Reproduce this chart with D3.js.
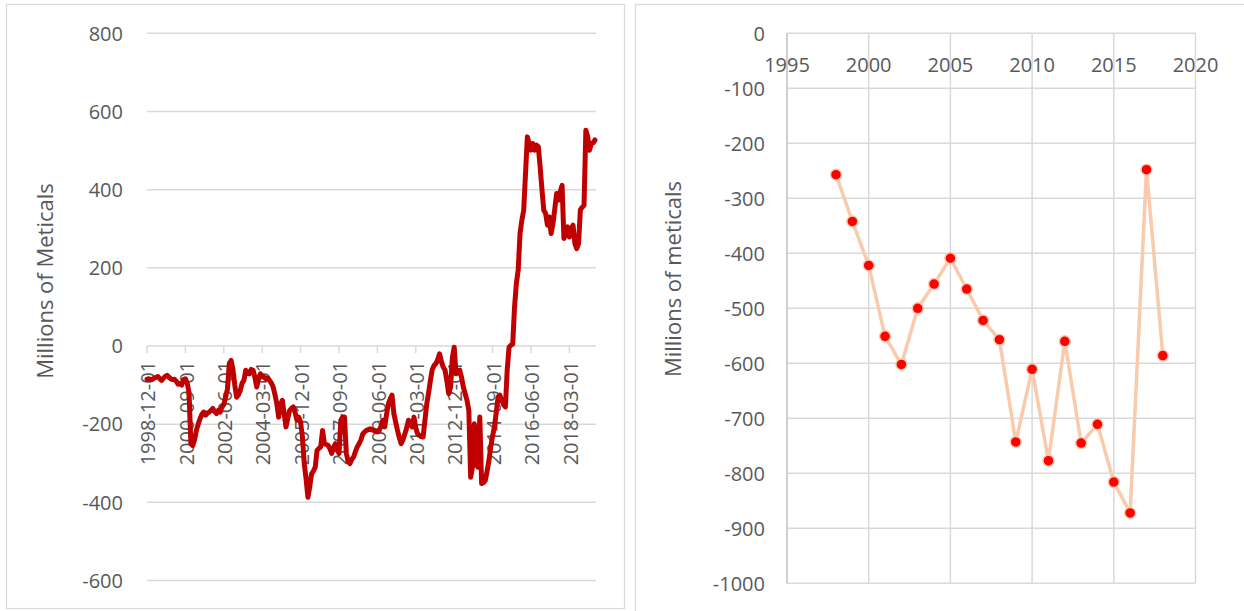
<!DOCTYPE html>
<html>
<head>
<meta charset="utf-8">
<script src="https://cdn.jsdelivr.net/npm/d3@7"></script>
<style>
  html, body { margin: 0; padding: 0; background: #fff; }
  svg { display: block; }
  text { font-family: "Open Sans", "Liberation Sans", sans-serif; fill: #595959; }
</style>
</head>
<body>
<svg id="chart" width="1244" height="611"></svg>
<script>
// ---------- Left chart: monthly series, 1998-12 .. 2019-05 ----------
const monthlyStart = "1998-12-01";
const monthlyValues = [
  -85, -84, -86, -85, -82, -80, -78, -84, -88, -82, -78, -75, -80, -84, -86, -85, -90, -98, -96,
  -100, -86, -84, -95, -120, -250, -255, -240, -216, -200, -186, -175, -169, -177, -172, -169,
  -165, -160, -168, -173, -165, -169, -156, -150, -130, -110, -45, -37, -60, -100, -131, -125,
  -114, -95, -88, -62, -70, -71, -60, -62, -80, -105, -85, -71, -79, -80, -84, -82, -88, -95,
  -105, -125, -148, -182, -150, -139, -173, -207, -185, -165, -160, -156, -170, -190, -182, -195,
  -233, -301, -340, -387, -360, -327, -320, -310, -267, -262, -258, -216, -250, -252, -254, -262,
  -275, -260, -250, -265, -275, -190, -182, -182, -275, -295, -301, -290, -284, -270, -258, -250,
  -240, -225, -220, -216, -214, -212, -214, -216, -218, -220, -216, -205, -190, -207, -175, -148,
  -135, -126, -173, -195, -216, -235, -250, -240, -225, -210, -190, -200, -207, -182, -210, -225,
  -229, -232, -233, -190, -148, -120, -88, -60, -50, -45, -35, -20, -40, -54, -62, -90, -122,
  -105, -30, -3, -71, -65, -62, -80, -105, -122, -139, -165, -336, -310, -199, -300, -310, -182,
  -352, -350, -344, -320, -293, -258, -230, -207, -170, -130, -126, -139, -150, -156, -60, -3,
  2, 5, 100, 160, 194, 288, 322, 347, 441, 535, 518, 501, 518, 501, 514, 510, 458, 400, 347, 339,
  309, 330, 288, 313, 350, 390, 373, 395, 411, 275, 290, 305, 279, 300, 309, 262, 249, 262, 348,
  355, 360, 552, 535, 501, 518, 520, 527
];
const leftTickLabels = ["1998-12-01","2000-09-01","2002-06-01","2004-03-01","2005-12-01","2007-09-01",
  "2009-06-01","2011-03-01","2012-12-01","2014-09-01","2016-06-01","2018-03-01"];
const leftYTicks = [800, 600, 400, 200, 0, -200, -400, -600];
const leftTitle = "Millions of Meticals";

// ---------- Right chart: annual series ----------
const years = [1998,1999,2000,2001,2002,2003,2004,2005,2006,2007,2008,2009,2010,2011,2012,2013,2014,2015,2016,2017,2018];
const annualValues = [-257,-342,-422,-551,-602,-500,-456,-409,-465,-522,-557,-743,-611,-777,-560,-745,-711,-816,-872,-248,-586];
const rightXTicks = [1995, 2000, 2005, 2010, 2015, 2020];
const rightYTicks = [0,-100,-200,-300,-400,-500,-600,-700,-800,-900,-1000];
const rightTitle = "Millions of meticals";

const svg = d3.select("#chart");
const grid = "#D9D9D9";

// panel frames
svg.append("rect").attr("x", 6.5).attr("y", 4.5).attr("width", 618).attr("height", 604)
  .attr("fill", "none").attr("stroke", grid).attr("stroke-width", 1.2);
svg.append("rect").attr("x", 635.5).attr("y", 4.5).attr("width", 700).attr("height", 700)
  .attr("fill", "none").attr("stroke", grid).attr("stroke-width", 1.2);

// ===== Left chart =====
const parse = d3.timeParse("%Y-%m-%d");
const startDate = parse(monthlyStart);
const xL = d3.scaleLinear().domain([0, monthlyValues.length - 1]).range([147, 595]);
const yL = d3.scaleLinear().domain([-600, 800]).range([580.5, 33.3]);
const L = svg.append("g");

L.append("g").selectAll("line").data(leftYTicks).join("line")
  .attr("x1", 147).attr("x2", 596)
  .attr("y1", d => yL(d)).attr("y2", d => yL(d))
  .attr("stroke", grid).attr("stroke-width", 1.5);

L.append("g").selectAll("text").data(leftYTicks).join("text")
  .attr("x", 123).attr("y", d => yL(d)).attr("dy", "0.36em")
  .attr("text-anchor", "end").attr("font-size", 20).text(d => d);

const tickIdx = leftTickLabels.map(s => d3.timeMonth.count(startDate, parse(s)));
L.append("g").selectAll("line").data(tickIdx).join("line")
  .attr("x1", d => xL(d)).attr("x2", d => xL(d))
  .attr("y1", yL(0)).attr("y2", yL(0) + 7)
  .attr("stroke", grid).attr("stroke-width", 1.5);

L.append("g").selectAll("text").data(leftTickLabels).join("text")
  .attr("transform", (d, i) => `translate(${xL(tickIdx[i]) + 1},${yL(0) + 15}) rotate(-90)`)
  .attr("dy", "0.36em").attr("text-anchor", "end").attr("font-size", 20)
  .text(d => d);

L.append("text")
  .attr("transform", `translate(45,281) rotate(-90)`)
  .attr("dy", "0.36em").attr("text-anchor", "middle").attr("font-size", 22)
  .text(leftTitle);

L.append("path").datum(monthlyValues)
  .attr("fill", "none").attr("stroke", "#C00000").attr("stroke-width", 5)
  .attr("stroke-linejoin", "round").attr("stroke-linecap", "round")
  .attr("d", d3.line().x((d, i) => xL(i)).y(d => yL(d)));

// ===== Right chart =====
const xR = d3.scaleLinear().domain([1995, 2020]).range([787, 1195.5]);
const yR = d3.scaleLinear().domain([-1000, 0]).range([583.3, 33.3]);
const R = svg.append("g");

R.append("g").selectAll("line").data(rightYTicks).join("line")
  .attr("x1", xR(1995)).attr("x2", xR(2020))
  .attr("y1", d => yR(d)).attr("y2", d => yR(d))
  .attr("stroke", grid).attr("stroke-width", 1.5);
R.append("g").selectAll("line").data(rightXTicks).join("line")
  .attr("x1", d => xR(d)).attr("x2", d => xR(d))
  .attr("y1", yR(0)).attr("y2", yR(-1000))
  .attr("stroke", (d, i) => i === 0 ? "#BFBFBF" : grid).attr("stroke-width", 1.5);

R.append("g").selectAll("text").data(rightYTicks).join("text")
  .attr("x", 765).attr("y", d => yR(d)).attr("dy", "0.36em")
  .attr("text-anchor", "end").attr("font-size", 20).text(d => d);

R.append("g").selectAll("text").data(rightXTicks).join("text")
  .attr("x", d => xR(d)).attr("y", 65).attr("dy", "0.36em")
  .attr("text-anchor", "middle").attr("font-size", 20).text(d => d);

R.append("text")
  .attr("transform", `translate(673,279) rotate(-90)`)
  .attr("dy", "0.36em").attr("text-anchor", "middle").attr("font-size", 22)
  .text(rightTitle);

R.append("path").datum(annualValues)
  .attr("fill", "none").attr("stroke", "#F8CBAD").attr("stroke-width", 3.5)
  .attr("stroke-linejoin", "round")
  .attr("d", d3.line().x((d, i) => xR(years[i])).y(d => yR(d)));

R.append("g").selectAll("circle").data(annualValues).join("circle")
  .attr("cx", (d, i) => xR(years[i])).attr("cy", d => yR(d)).attr("r", 5.5)
  .attr("fill", "#FF0000").attr("stroke", "#F8CBAD").attr("stroke-width", 1.5);
</script>
</body>
</html>
